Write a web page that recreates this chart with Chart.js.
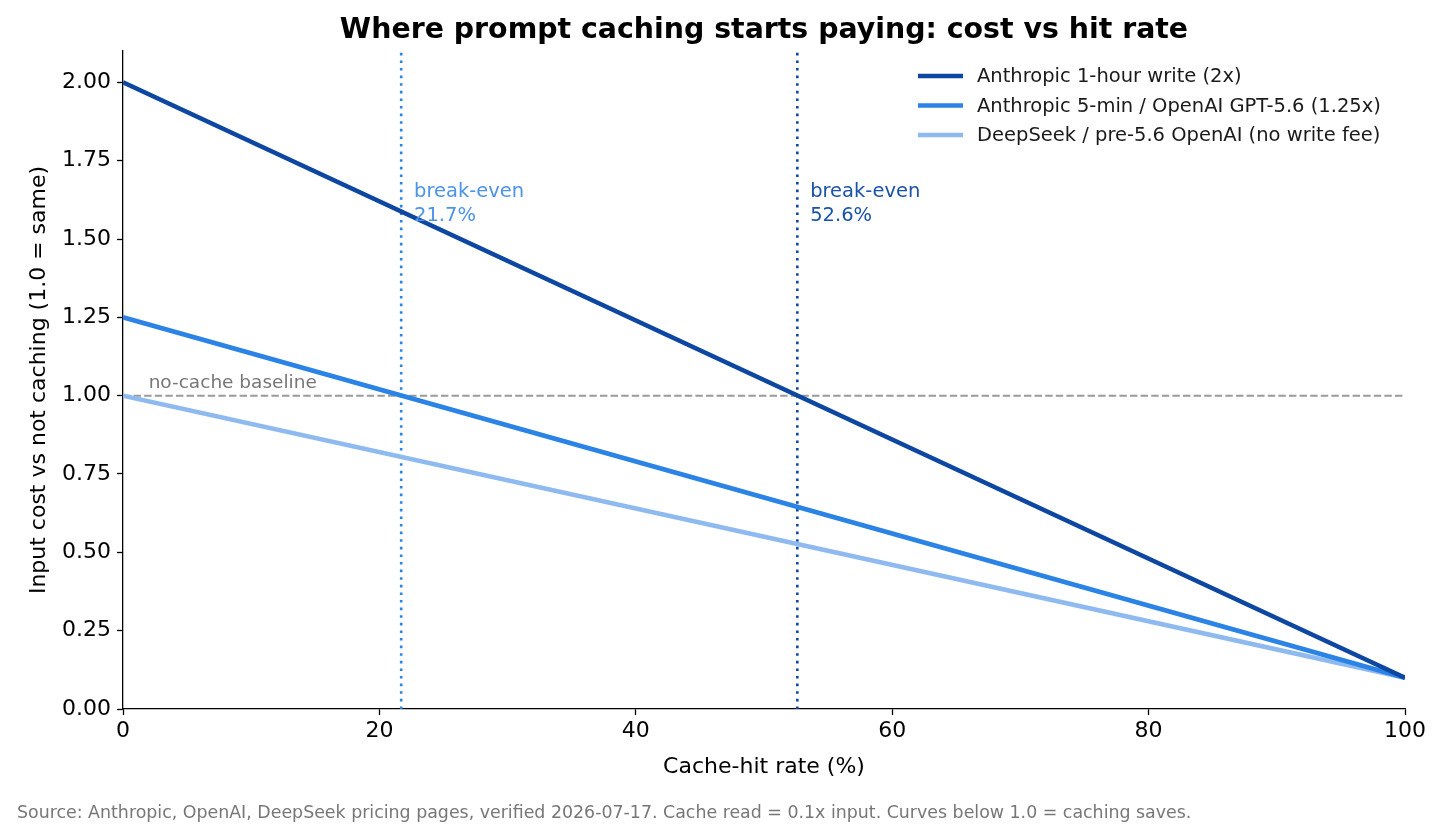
<!DOCTYPE html>
<html>
<head>
<meta charset="utf-8">
<script src="https://cdn.jsdelivr.net/npm/chart.js@4.4.1/dist/chart.umd.min.js"></script>
<style>
  html, body { margin: 0; padding: 0; background: #fff; }
  #wrap { width: 1440px; height: 839px; position: relative; }
</style>
</head>
<body>
<div id="wrap"><canvas id="costChart"></canvas></div>
<script>
// ---- data ----
const hitRates = [0, 100];                 // cache-hit rate (%)
const oneHourCost = [2.0, 0.1];            // Anthropic 1-hour write (2x)
const fiveMinCost = [1.25, 0.1];           // Anthropic 5-min / OpenAI GPT-5.6 (1.25x)
const noWriteCost = [1.0, 0.1];            // DeepSeek / pre-5.6 OpenAI
const seriesLabels = [
    "Anthropic 1-hour write (2x)",
    "Anthropic 5-min / OpenAI GPT-5.6 (1.25x)",
    "DeepSeek / pre-5.6 OpenAI (no write fee)"
];
const breakEvenRates = [21.7, 52.6];
const breakEvenLabels = ["21.7%", "52.6%"];
const baselineValue = 1.0;
const xTicks = [0, 20, 40, 60, 80, 100];
const yTicks = [0, 0.25, 0.5, 0.75, 1.0, 1.25, 1.5, 1.75, 2.0];

const titleText = "Where prompt caching starts paying: cost vs hit rate";
const xTitle = "Cache-hit rate (%)";
const yTitle = "Input cost vs not caching (1.0 = same)";
const sourceText = "Source: Anthropic, OpenAI, DeepSeek pricing pages, verified 2026-07-17. Cache read = 0.1x input. Curves below 1.0 = caching saves.";

const DARK = "#0d47a1";
const MID = "#2b83e6";
const LIGHT = "#8fbaf0";
const FONT = "'DejaVu Sans', sans-serif";

function toPoints(xs, ys) {
    return xs.map((x, i) => ({ x: x, y: ys[i] }));
}

const Y_MAX = 2.1;

// ====================== DATASETS ======================
const datasets = [
    { label: seriesLabels[0], data: toPoints(hitRates, oneHourCost), borderColor: DARK, borderWidth: 4.6 },
    { label: seriesLabels[1], data: toPoints(hitRates, fiveMinCost), borderColor: MID, borderWidth: 4.6 },
    { label: seriesLabels[2], data: toPoints(hitRates, noWriteCost), borderColor: LIGHT, borderWidth: 4.6 },
    // reference lines
    { label: "baseline", data: toPoints(hitRates, [baselineValue, baselineValue]), borderColor: "#9a9a9a", borderWidth: 2, borderDash: [7.4, 3.2] },
    { label: "be1", data: [{ x: breakEvenRates[0], y: 0 }, { x: breakEvenRates[0], y: Y_MAX }], borderColor: MID, borderWidth: 2.6, borderDash: [2.6, 5] },
    { label: "be2", data: [{ x: breakEvenRates[1], y: 0 }, { x: breakEvenRates[1], y: Y_MAX }], borderColor: DARK, borderWidth: 2.6, borderDash: [2.6, 5] }
];
datasets.forEach(d => {
    d.pointRadius = 0;
    d.pointHoverRadius = 0;
    d.fill = false;
    d.tension = 0;
});

// ====================== TEXT / LEGEND PLUGIN ======================
const textPlugin = {
    id: "textPlugin",
    afterDraw(chart) {
        const ctx = chart.ctx;
        const xs = chart.scales.x;
        const ys = chart.scales.y;
        const area = chart.chartArea;
        ctx.save();

        // title
        ctx.fillStyle = "#000";
        ctx.font = "bold 28.4px " + FONT;
        ctx.textAlign = "center";
        ctx.textBaseline = "alphabetic";
        ctx.fillText(titleText, (area.left + area.right) / 2, 38);

        // axis titles
        ctx.font = "22px " + FONT;
        ctx.fillText(xTitle, (area.left + area.right) / 2, 773);
        ctx.save();
        ctx.translate(45, (area.top + area.bottom) / 2);
        ctx.rotate(-Math.PI / 2);
        ctx.fillText(yTitle, 0, 0);
        ctx.restore();

        // break-even annotations
        ctx.font = "19.5px " + FONT;
        ctx.textAlign = "left";
        ctx.textBaseline = "top";
        const beColors = ["#4d93e8", "#1a52a8"];
        breakEvenRates.forEach((r, i) => {
            const px = xs.getPixelForValue(r + 1);
            const py = ys.getPixelForValue(1.68);
            ctx.fillStyle = beColors[i];
            ctx.fillText("break-even", px, py);
            ctx.fillText(breakEvenLabels[i], px, py + 24);
        });

        // baseline label
        ctx.font = "18.5px " + FONT;
        ctx.fillStyle = "#777";
        ctx.textBaseline = "alphabetic";
        ctx.fillText("no-cache baseline", xs.getPixelForValue(2), ys.getPixelForValue(1.025));

        // legend
        ctx.font = "19.5px " + FONT;
        ctx.textBaseline = "middle";
        const lx = 918, ly = 76, step = 29.5;
        for (let i = 0; i < 3; i++) {
            const ds = chart.data.datasets[i];
            const y = ly + i * step;
            ctx.strokeStyle = ds.borderColor;
            ctx.lineWidth = 4.6;
            ctx.beginPath();
            ctx.moveTo(lx, y);
            ctx.lineTo(lx + 45, y);
            ctx.stroke();
            ctx.fillStyle = "#1a1a1a";
            ctx.fillText(ds.label, lx + 59, y + 1);
        }

        // source
        ctx.font = "17.4px " + FONT;
        ctx.fillStyle = "#777";
        ctx.textBaseline = "alphabetic";
        ctx.fillText(sourceText, 17, 818);

        ctx.restore();
    }
};

// ====================== CHART ======================
new Chart(document.getElementById("costChart").getContext("2d"), {
    type: "line",
    data: { datasets: datasets },
    options: {
        responsive: true,
        maintainAspectRatio: false,
        animation: false,
        layout: { padding: { left: 0, top: 51, right: 35, bottom: 0 } },
        plugins: {
            legend: { display: false },
            title: { display: false },
            tooltip: { enabled: false }
        },
        scales: {
            x: {
                type: "linear",
                min: 0,
                max: 100,
                afterBuildTicks: scale => { scale.ticks = xTicks.map(v => ({ value: v })); },
                afterFit: scale => { scale.height = 130; },
                grid: { drawOnChartArea: false, drawTicks: true, tickLength: 6, tickColor: "#000", tickWidth: 1.3 },
                border: { display: true, color: "#000", width: 1.3 },
                ticks: { color: "#000", font: { family: FONT, size: 22 }, padding: 3, maxRotation: 0, autoSkip: false }
            },
            y: {
                type: "linear",
                min: 0,
                max: Y_MAX,
                afterBuildTicks: scale => { scale.ticks = yTicks.map(v => ({ value: v })); },
                afterFit: scale => { scale.width = 123; },
                grid: { drawOnChartArea: false, drawTicks: true, tickLength: 6, tickColor: "#000", tickWidth: 1.3 },
                border: { display: true, color: "#000", width: 1.3 },
                ticks: {
                    color: "#000",
                    font: { family: FONT, size: 22 },
                    padding: 6,
                    autoSkip: false,
                    callback: v => v.toFixed(2)
                }
            }
        }
    },
    plugins: [textPlugin]
});
</script>
</body>
</html>
